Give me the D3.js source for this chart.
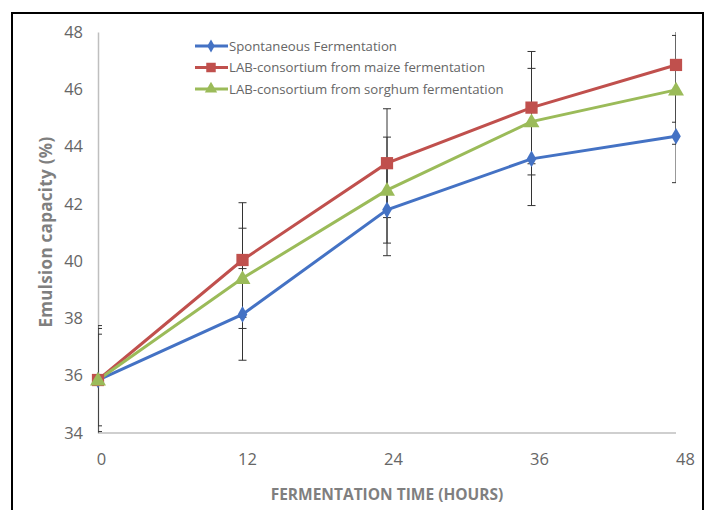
<!DOCTYPE html>
<html><head><meta charset="utf-8">
<script src="https://cdn.jsdelivr.net/npm/d3@7"></script>
<style>
html,body{margin:0;padding:0;background:#fff;}
svg{display:block;}
text{font-family:"Open Sans","Liberation Sans",sans-serif;}
</style></head><body>
<svg id="c" width="708" height="510"></svg>
<script>
const hours = [0, 12, 24, 36, 48];
const xTickLabels = ["0", "12", "24", "36", "48"];
const yTicks = [34, 36, 38, 40, 42, 44, 46, 48];
const seriesNames = ["Spontaneous Fermentation", "LAB-consortium from maize fermentation", "LAB-consortium from sorghum fermentation"];
const spontaneous = [35.85, 38.14, 41.79, 43.57, 44.36];
const maize = [35.85, 40.04, 43.42, 45.36, 46.85];
const sorghum = [35.85, 39.40, 42.48, 44.87, 45.98];
const spontaneousErr = [1.6, 1.6, 1.6, 1.63, 1.62];
const maizeErr = [1.9, 2.0, 1.9, 1.96, 2.0];
const sorghumErr = [1.8, 1.75, 1.85, 1.86, 1.9];
const colors = ["#4472C4", "#C0504D", "#9BBB59"];
const markers = ["diamond", "square", "triangle"];

const svg = d3.select("#c");
const L = 98, R = 676, T = 32, B = 433;
const x = d3.scaleLinear().domain([0, 48]).range([L, R]);
const xLab = d3.scalePoint().domain(xTickLabels).range([L + 3, R + 9]);
const y = d3.scaleLinear().domain([34, 48]).range([B, T]);

// frame
svg.append("rect").attr("x", 12).attr("y", 13).attr("width", 691).attr("height", 510)
  .attr("fill", "none").attr("stroke", "#000").attr("stroke-width", 2);

svg.append("clipPath").attr("id", "plot").append("rect")
  .attr("x", L).attr("y", T).attr("width", R - L).attr("height", B - T);

// axes
const yAxis = d3.axisLeft(y).tickValues(yTicks).tickSize(0).tickPadding(15);
const gy = svg.append("g").attr("transform", `translate(${L},0)`).call(yAxis);
gy.select(".domain").attr("stroke", "#bfbfbf").attr("stroke-width", 1.5);
gy.selectAll("text").attr("fill", "#666").attr("font-size", 16.5);

const xAxis = d3.axisBottom(xLab).tickSize(0).tickPadding(20);
const gx = svg.append("g").attr("transform", `translate(0,${B})`).call(xAxis);
gx.select(".domain").remove();
gx.selectAll("text").attr("fill", "#666").attr("font-size", 16.5);
svg.append("line").attr("x1", x(0)).attr("x2", x(48)).attr("y1", y(34)).attr("y2", y(34))
  .attr("stroke", "#bfbfbf").attr("stroke-width", 1.5);

// titles
svg.append("text").attr("transform", `translate(52,232) rotate(-90)`)
  .attr("text-anchor", "middle").attr("fill", "#7f7f7f").attr("font-weight", "bold")
  .attr("font-size", 17).style("letter-spacing", "0.3px").text("Emulsion capacity (%)");
svg.append("text").attr("x", 387).attr("y", 500).attr("text-anchor", "middle")
  .attr("fill", "#7f7f7f").attr("font-weight", "bold")
  .attr("font-size", 15.5).text("FERMENTATION TIME (HOURS)");

const data = [
  {vals: spontaneous, err: spontaneousErr},
  {vals: maize, err: maizeErr},
  {vals: sorghum, err: sorghumErr}
];

// error bars
const eb = svg.append("g").attr("clip-path", "url(#plot)");
data.forEach(s => {
  s.vals.forEach((v, i) => {
    const cx = x(hours[i]);
    const g = eb.append("g").attr("stroke", "#333").attr("stroke-width", 1);
    g.append("line").attr("x1", cx).attr("x2", cx).attr("y1", y(v - s.err[i])).attr("y2", y(v + s.err[i]));
    [v - s.err[i], v + s.err[i]].forEach(e => {
      g.append("line").attr("x1", cx - 4).attr("x2", cx + 4).attr("y1", y(e)).attr("y2", y(e));
    });
  });
});

function sym(type, size) {
  const t = type === "diamond" ? d3.symbolDiamond : type === "square" ? d3.symbolSquare : d3.symbolTriangle;
  return d3.symbol().type(t).size(size)();
}
const sizes = {diamond: 80, square: 150, triangle: 110};

const line = d3.line().x((d, i) => x(hours[i])).y(d => y(d));
data.forEach((s, k) => {
  svg.append("path").datum(s.vals).attr("d", line).attr("fill", "none")
    .attr("stroke", colors[k]).attr("stroke-width", 3);
});
data.forEach((s, k) => {
  svg.append("g").selectAll("path").data(s.vals).join("path")
    .attr("transform", (d, i) => `translate(${x(hours[i])},${y(d) + (markers[k] === "triangle" ? 1 : 0)})`)
    .attr("d", sym(markers[k], sizes[markers[k]])).attr("fill", colors[k]);
});

// legend
const lg = svg.append("g");
seriesNames.forEach((n, k) => {
  const ly = 46 + k * 21.5;
  lg.append("line").attr("x1", 195).attr("x2", 228).attr("y1", ly).attr("y2", ly)
    .attr("stroke", colors[k]).attr("stroke-width", 3);
  lg.append("path").attr("transform", `translate(211,${ly})`)
    .attr("d", sym(markers[k], sizes[markers[k]] * 0.6)).attr("fill", colors[k]);
  lg.append("text").attr("x", 229).attr("y", ly + 4.5).attr("fill", "#666")
    .attr("font-size", 13.2).text(n);
});
</script>
</body></html>
